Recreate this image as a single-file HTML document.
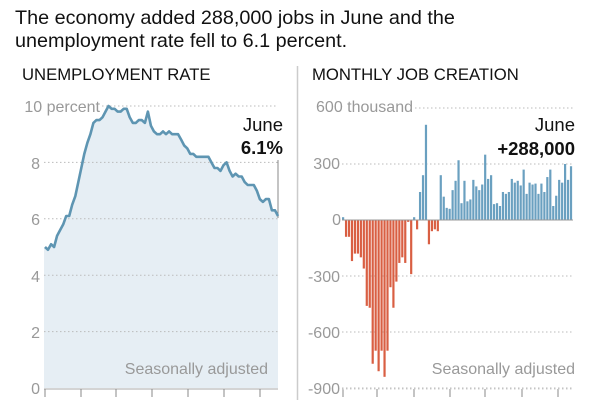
<!DOCTYPE html><html><head><style>body{margin:0;background:#fff}svg{display:block}text{font-family:"Liberation Sans",sans-serif}</style></head><body>
<svg width="600" height="400" xmlns="http://www.w3.org/2000/svg">
<text x="15" y="24" font-size="19.8" fill="#111">The economy added 288,000 jobs in June and the</text>
<text x="15" y="47" font-size="19.8" fill="#111">unemployment rate fell to 6.1 percent.</text>
<text x="22" y="80" font-size="16.7" fill="#111">UNEMPLOYMENT RATE</text>
<text x="312" y="80" font-size="16.7" fill="#111">MONTHLY JOB CREATION</text>
<line x1="297.5" y1="66" x2="297.5" y2="400" stroke="#ccc" stroke-width="1.5"/>
<g id="L"></g><g id="R"></g>
<g font-size="16" fill="#999">
<text x="100" y="112" text-anchor="end">10 percent</text>
<text x="40" y="169" text-anchor="end">8</text>
<text x="40" y="225" text-anchor="end">6</text>
<text x="40" y="282" text-anchor="end">4</text>
<text x="40" y="338" text-anchor="end">2</text>
<text x="40" y="394" text-anchor="end">0</text>
<text x="413" y="112" text-anchor="end">600 thousand</text>
<text x="340" y="169" text-anchor="end">300</text>
<text x="341" y="225" text-anchor="end">0</text>
<text x="340" y="282" text-anchor="end">-300</text>
<text x="340" y="338" text-anchor="end">-600</text>
<text x="340" y="394" text-anchor="end">-900</text>
<text x="268" y="374" text-anchor="end">Seasonally adjusted</text>
<text x="575" y="374" text-anchor="end">Seasonally adjusted</text>
</g>
<g font-size="18.5" fill="#111" text-anchor="end">
<text x="283" y="131">June</text><text x="283" y="154" font-weight="bold">6.1%</text>
<text x="575" y="131">June</text><text x="575" y="155" font-weight="bold">+288,000</text>
</g>
</svg>
<script>
const ns="http://www.w3.org/2000/svg";
function el(p,t,a){const e=document.createElementNS(ns,t);for(const k in a)e.setAttribute(k,a[k]);document.getElementById(p).appendChild(e);return e;}
const u=[5.0,4.9,5.1,5.0,5.4,5.6,5.8,6.1,6.1,6.5,6.8,7.3,7.8,8.3,8.7,9.0,9.4,9.5,9.5,9.6,9.8,10.0,9.9,9.9,9.8,9.8,9.9,9.9,9.6,9.4,9.4,9.5,9.5,9.4,9.8,9.3,9.1,9.0,9.0,9.1,9.0,9.1,9.0,9.0,9.0,8.8,8.6,8.5,8.3,8.3,8.2,8.2,8.2,8.2,8.2,8.0,7.8,7.8,7.7,7.9,8.0,7.7,7.5,7.6,7.5,7.5,7.3,7.2,7.2,7.2,7.0,6.7,6.6,6.7,6.7,6.3,6.3,6.1];
const ly=v=>388-v*28.2;
let pts=u.map((v,i)=>[(45+i*233/77).toFixed(1),ly(v).toFixed(1)]);
el("L","path",{d:"M44,388 L44,"+pts[0][1]+" L"+pts.map(p=>p.join(",")).join(" L")+" L278,388 Z",fill:"#e6eef4"});
[2,4,6,8,10].forEach(v=>el("L","line",{x1:v==10?102:44,x2:278,y1:ly(v),y2:ly(v),stroke:"#bbb","stroke-dasharray":"1.5,2.5"}));
el("L","line",{x1:278,x2:278,y1:160,y2:218,stroke:"#888"});
el("L","polyline",{points:pts.map(p=>p.join(",")).join(" "),fill:"none",stroke:"#5e95b2","stroke-width":2.6,"stroke-linejoin":"round"});
el("L","line",{x1:44,x2:278,y1:389,y2:389,stroke:"#aaa"});
[45,81,116,152,188,224,260].forEach(x=>el("L","line",{x1:x,x2:x,y1:389,y2:397,stroke:"#888"}));
const j=[15,-90,-90,-220,-180,-180,-200,-260,-460,-470,-770,-700,-810,-700,-840,-700,-360,-470,-330,-230,-200,-230,-10,-290,15,-50,150,240,510,-130,-60,-50,-60,240,125,65,60,160,210,320,90,210,100,110,215,180,160,190,350,220,240,85,90,75,150,140,150,220,200,210,185,270,140,200,190,195,140,195,150,230,270,75,130,215,200,300,215,288];
const ry=v=>220-v*0.1867;
[600,300,-300,-600,-900].forEach(v=>el("R","line",{x1:v==600?415:342,x2:573,y1:ry(v),y2:ry(v),stroke:"#bbb","stroke-dasharray":"1.5,2.5"}));
j.forEach((v,i)=>{const x=342+i*2.96;el("R","rect",{x:x,width:2.2,y:Math.min(ry(v),220),height:Math.abs(v*0.1867),fill:v<0?"#d95f43":"#6aa0c0"});});
el("R","line",{x1:342,x2:573,y1:220,y2:220,stroke:"#999"});
[343,377,414,450,485,522,558].forEach(x=>el("R","line",{x1:x,x2:x,y1:389,y2:397,stroke:"#888"}));
el("R","line",{x1:342,x2:573,y1:389,y2:389,stroke:"#ccc","stroke-dasharray":"1.5,2.5"});
</script>
</body></html>
